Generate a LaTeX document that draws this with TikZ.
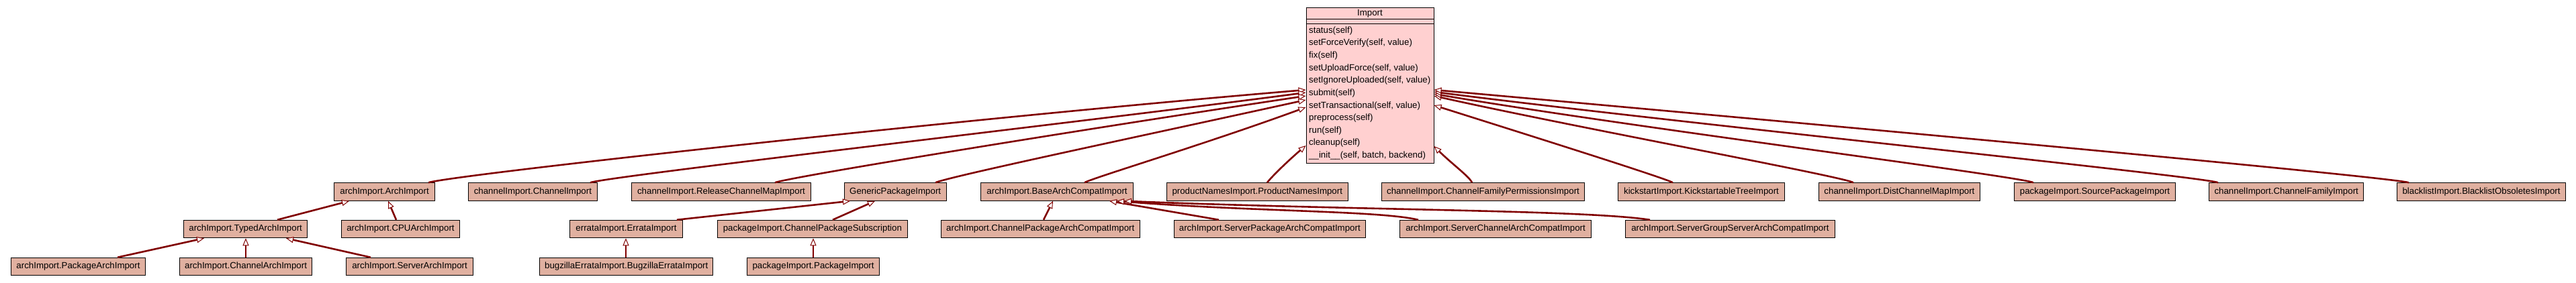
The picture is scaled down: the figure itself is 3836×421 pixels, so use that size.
\documentclass[tikz,border=0pt]{standalone}
\usepackage{fontspec}
\setmainfont{Liberation Sans}
\usetikzlibrary{arrows.meta}
\definecolor{clsfill}{HTML}{E0B0A0}
\definecolor{impfill}{HTML}{FFD0D0}
\definecolor{inh}{HTML}{800000}
\begin{document}
\begin{tikzpicture}[x=1pt,y=-1pt,
  cls/.style={draw=black, line width=1pt, fill=clsfill, inner sep=0pt, minimum height=26.5pt, font=\fontsize{13.3}{16}\selectfont},
  inhedge/.style={draw=inh, line width=2.6pt, -{Triangle[fill=white, length=11pt, width=9pt, line width=1pt]}},
  meth/.style={anchor=base west, inner sep=0pt, font=\fontsize{13.3}{16}\selectfont},
  ttl/.style={anchor=base, inner sep=0pt, font=\fontsize{13.3}{16}\selectfont}
]
\useasboundingbox (0,0) rectangle (3836,421);
\fill[white] (0,0) rectangle (3836,421);

% Import class box
\node[draw=black, line width=1pt, fill=impfill, minimum width=190pt, minimum height=232pt, inner sep=0pt] (imp) at (2040,127) {};
\draw[line width=1pt] (imp.west |- 0,28) -- (imp.east |- 0,28);
\draw[line width=1pt] (imp.west |- 0,35) -- (imp.east |- 0,35);
\node[ttl] (imptitle) at (2040,23.3) {Import};
\node[meth] (m1) at (1949,49.2) {status(self)};
\node[meth] (m2) at (1949,67.84) {setForceVerify(self, value)};
\node[meth] (m3) at (1949,86.48) {fix(self)};
\node[meth] (m4) at (1949,105.12) {setUploadForce(self, value)};
\node[meth] (m5) at (1949,123.76) {setIgnoreUploaded(self, value)};
\node[meth] (m6) at (1949,142.4) {submit(self)};
\node[meth] (m7) at (1949,161.04) {setTransactional(self, value)};
\node[meth] (m8) at (1949,179.68) {preprocess(self)};
\node[meth] (m9) at (1949,198.32) {run(self)};
\node[meth] (m10) at (1949,216.96) {cleanup(self)};
\node[meth] (m11) at (1949,235.6) {\_\_init\_\_(self, batch, backend)};

% Row 1
\node[cls, minimum width=149.5pt] (arch) at (572.55,286) {archImport.ArchImport};
\node[cls, minimum width=192pt] (chan) at (793.4,286) {channelImport.ChannelImport};
\node[cls, minimum width=267.4pt] (rcm) at (1074,286) {channelImport.ReleaseChannelMapImport};
\node[cls, minimum width=151.9pt] (gpi) at (1333.15,286) {GenericPackageImport};
\node[cls, minimum width=227.3pt] (baci) at (1574.05,286) {archImport.BaseArchCompatImport};
\node[cls, minimum width=270.1pt] (pni) at (1872.25,286) {productNamesImport.ProductNamesImport};
\node[cls, minimum width=302.2pt] (cfpi) at (2208.5,286) {channelImport.ChannelFamilyPermissionsImport};
\node[cls, minimum width=247.8pt] (kti) at (2533.5,286) {kickstartImport.KickstartableTreeImport};
\node[cls, minimum width=240.3pt] (dcmi) at (2828.45,286) {channelImport.DistChannelMapImport};
\node[cls, minimum width=240.1pt] (spi) at (3119.55,286) {packageImport.SourcePackageImport};
\node[cls, minimum width=230.2pt] (cfi) at (3404.7,286) {channelImport.ChannelFamilyImport};
\node[cls, minimum width=251.3pt] (boi) at (3695.05,286) {blacklistImport.BlacklistObsoletesImport};

% Row 2
\node[cls, minimum width=183.9pt] (tai) at (365.65,341.5) {archImport.TypedArchImport};
\node[cls, minimum width=175.9pt] (cpu) at (596.45,341.5) {archImport.CPUArchImport};
\node[cls, minimum width=168.3pt] (eri) at (932.45,341.5) {errataImport.ErrataImport};
\node[cls, minimum width=283pt] (cps) at (1209.9,341.5) {packageImport.ChannelPackageSubscription};
\node[cls, minimum width=296.4pt] (cpac) at (1549.3,341.5) {archImport.ChannelPackageArchCompatImport};
\node[cls, minimum width=284.8pt] (spac) at (1890.8,341.5) {archImport.ServerPackageArchCompatImport};
\node[cls, minimum width=284.9pt] (scac) at (2227.05,341.5) {archImport.ServerChannelArchCompatImport};
\node[cls, minimum width=312pt] (sgsac) at (2576.4,341.5) {archImport.ServerGroupServerArchCompatImport};

% Row 3
\node[cls, minimum width=200pt] (pai) at (116.5,397.5) {archImport.PackageArchImport};
\node[cls, minimum width=197.3pt] (cai) at (366.05,397.5) {archImport.ChannelArchImport};
\node[cls, minimum width=188.9pt] (sai) at (610.05,397.5) {archImport.ServerArchImport};
\node[cls, minimum width=258pt] (bei) at (932.7,397.5) {bugzillaErrataImport.BugzillaErrataImport};
\node[cls, minimum width=196.9pt] (pki) at (1211.05,397.5) {packageImport.PackageImport};

% Edges into Import (left side)
\draw[inhedge] (638,0 |- arch.north) .. controls +(40,-12) and +(-500,42) .. (imp.west |- 0,134);
\draw[inhedge] (879,0 |- chan.north) .. controls +(30,-10) and +(-300,40) .. (imp.west |- 0,138);
\draw[inhedge] (1154,0 |- rcm.north) .. controls +(30,-10) and +(-300,45) .. (imp.west |- 0,143);
\draw[inhedge] (1393,0 |- gpi.north) .. controls +(25,-10) and +(-250,55) .. (imp.west |- 0,149);
\draw[inhedge] (1615,0 |- baci.north) .. controls +(15,-8) and +(-150,55) .. (imp.west |- 0,160);
\draw[inhedge] (1887,0 |- pni.north) .. controls +(6,-8) and +(-30,26) .. (imp.west |- 0,217);
% Edges into Import (right side)
\draw[inhedge] (2192,0 |- cfpi.north) .. controls +(-4,-9) and +(25,25) .. (imp.east |- 0,218);
\draw[inhedge] (2491,0 |- kti.north) .. controls +(-15,-8) and +(120,38) .. (imp.east |- 0,157);
\draw[inhedge] (2760,0 |- dcmi.north) .. controls +(-20,-10) and +(200,45) .. (imp.east |- 0,143);
\draw[inhedge] (3028,0 |- spi.north) .. controls +(-25,-10) and +(280,48) .. (imp.east |- 0,140);
\draw[inhedge] (3303,0 |- cfi.north) .. controls +(-30,-10) and +(350,45) .. (imp.east |- 0,137);
\draw[inhedge] (3587,0 |- boi.north) .. controls +(-40,-10) and +(500,45) .. (imp.east |- 0,134);

% Row 2 -> Row 1
\draw[inhedge] (413,0 |- tai.north) -- (520,0 |- arch.south);
\draw[inhedge] (590,0 |- cpu.north) -- (578,0 |- arch.south);
\draw[inhedge] (1008,0 |- eri.north) -- (1266,0 |- gpi.south);
\draw[inhedge] (1240,0 |- cps.north) -- (1303,0 |- gpi.south);
\draw[inhedge] (1554,0 |- cpac.north) -- (1568,0 |- baci.south);
\draw[inhedge] (1815,0 |- spac.north) -- (1652,0 |- baci.south);
\draw[inhedge] (2112,0 |- scac.north) .. controls +(-60,-14) and +(200,16) .. (1663,0 |- baci.south);
\draw[inhedge] (2457,0 |- sgsac.north) .. controls +(-100,-15) and +(350,14) .. (1674,0 |- baci.south);

% Row 3 -> Row 2
\draw[inhedge] (175,0 |- pai.north) -- (304,0 |- tai.south);
\draw[inhedge] (366,0 |- cai.north) -- (366,0 |- tai.south);
\draw[inhedge] (552,0 |- sai.north) -- (426,0 |- tai.south);
\draw[inhedge] (932,0 |- bei.north) -- (932,0 |- eri.south);
\draw[inhedge] (1211,0 |- pki.north) -- (1211,0 |- cps.south);
\end{tikzpicture}
\end{document}
